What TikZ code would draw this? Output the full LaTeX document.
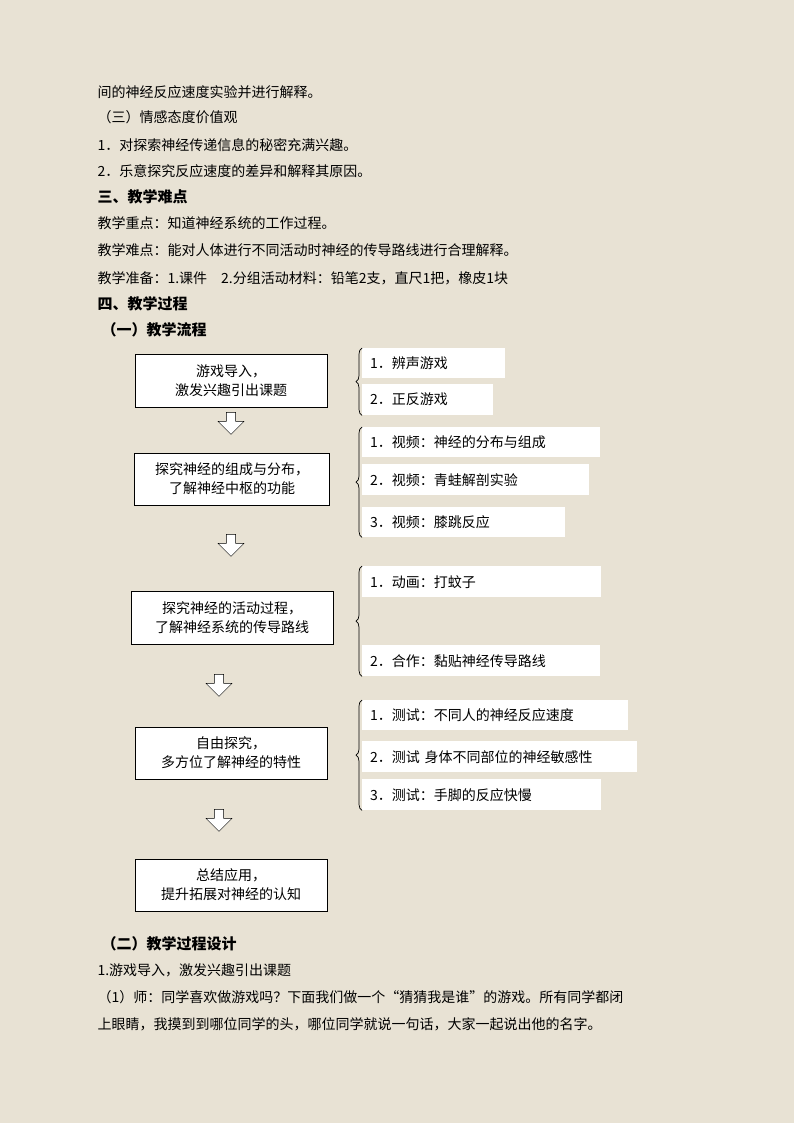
\documentclass[tikz,border=0pt]{standalone}
\usepackage{fontspec}
\newfontfamily\cjk{Noto Sans CJK SC}
\usetikzlibrary{shapes.arrows,decorations.pathreplacing}
\definecolor{paper}{RGB}{232,226,212}
\tikzset{
  line/.style={anchor=west,font=\cjk\fontsize{14}{17}\selectfont},
  head/.style={anchor=west,font=\cjk\bfseries\fontsize{15}{18}\selectfont},
  stage/.style={draw,fill=white,line width=0.8pt,align=center,font=\cjk\fontsize{14}{19}\selectfont},
  item/.style={fill=white,anchor=north west,inner xsep=8pt,text width=#1-16pt,align=left,font=\cjk\fontsize{14}{17}\selectfont},
  downarrow/.style={single arrow,draw,fill=white,shape border rotate=270,minimum width=26pt,minimum height=22pt,single arrow head extend=4pt,inner sep=2pt},
  grp/.style={decorate,decoration={brace,mirror,amplitude=6pt},line width=0.7pt}
}
\begin{document}
\begin{tikzpicture}[x=1pt,y=-1pt]
\fill[paper] (0,0) rectangle (794,1123);
\useasboundingbox (0,0) rectangle (794,1123);
% text above
\node[line] (t1) at (94,92) {间的神经反应速度实验并进行解释。};
\node[line] (t2) at (94,117) {（三）情感态度价值观};
\node[line] (t3) at (94,145) {1．对探索神经传递信息的秘密充满兴趣。};
\node[line] (t4) at (94,171) {2．乐意探究反应速度的差异和解释其原因。};
\node[head] (h3) at (94,197) {三、教学难点};
\node[line] (t5) at (94,223) {教学重点：知道神经系统的工作过程。};
\node[line] (t6) at (94,250) {教学难点：能对人体进行不同活动时神经的传导路线进行合理解释。};
\node[line] (t7) at (94,278) {教学准备：1.课件\quad 2.分组活动材料：铅笔2支，直尺1把，橡皮1块};
\node[head] (h4) at (94,304) {四、教学过程};
\node[head] (h41) at (98,330) {（一）教学流程};
% stages
\node[stage,minimum width=192pt,minimum height=53pt] (s1) at (231,381) {游戏导入，\\激发兴趣引出课题};
\node[stage,minimum width=195pt,minimum height=52pt] (s2) at (232,479) {探究神经的组成与分布，\\了解神经中枢的功能};
\node[stage,minimum width=202pt,minimum height=53pt] (s3) at (232,618) {探究神经的活动过程，\\了解神经系统的传导路线};
\node[stage,minimum width=192pt,minimum height=52pt] (s4) at (231,753) {自由探究，\\多方位了解神经的特性};
\node[stage,minimum width=192pt,minimum height=52pt] (s5) at (231,885) {总结应用，\\提升拓展对神经的认知};
\node[downarrow] (a1) at (231,421) {};
\node[downarrow] (a2) at (231,543) {};
\node[downarrow] (a3) at (219,683) {};
\node[downarrow] (a4) at (219,818) {};
% items
\node[item=143pt,minimum height=30pt] (i11) at (362,348) {1．辨声游戏};
\node[item=131pt,minimum height=31pt] (i12) at (362,384) {2．正反游戏};
\node[item=238pt,minimum height=30pt] (i21) at (362,427) {1．视频：神经的分布与组成};
\node[item=227pt,minimum height=31pt] (i22) at (362,464) {2．视频：青蛙解剖实验};
\node[item=203pt,minimum height=30pt] (i23) at (362,507) {3．视频：膝跳反应};
\node[item=239pt,minimum height=31pt] (i31) at (362,566) {1．动画：打蚊子};
\node[item=238pt,minimum height=31pt] (i32) at (362,645) {2．合作：黏贴神经传导路线};
\node[item=266pt,minimum height=30pt] (i41) at (362,700) {1．测试：不同人的神经反应速度};
\node[item=275pt,minimum height=31pt] (i42) at (362,741) {2．测试 身体不同部位的神经敏感性};
\node[item=239pt,minimum height=31pt] (i43) at (362,779) {3．测试：手脚的反应快慢};
% braces
\draw[grp,xshift=-4pt] (i11.north west) -- (i12.south west);
\draw[grp,xshift=-4pt] (i21.north west) -- (i23.south west);
\draw[grp,xshift=-4pt] (i31.north west) -- (i32.south west);
\draw[grp,xshift=-4pt] (i41.north west) -- (i43.south west);
% text below
\node[head] (h42) at (98,944) {（二）教学过程设计};
\node[line] (b1) at (94,970) {1.游戏导入，激发兴趣引出课题};
\node[line] (b2) at (94,997) {（1）师：同学喜欢做游戏吗？下面我们做一个“猜猜我是谁”的游戏。所有同学都闭};
\node[line] (b3) at (94,1024) {上眼睛，我摸到到哪位同学的头，哪位同学就说一句话，大家一起说出他的名字。};
\end{tikzpicture}
\end{document}
